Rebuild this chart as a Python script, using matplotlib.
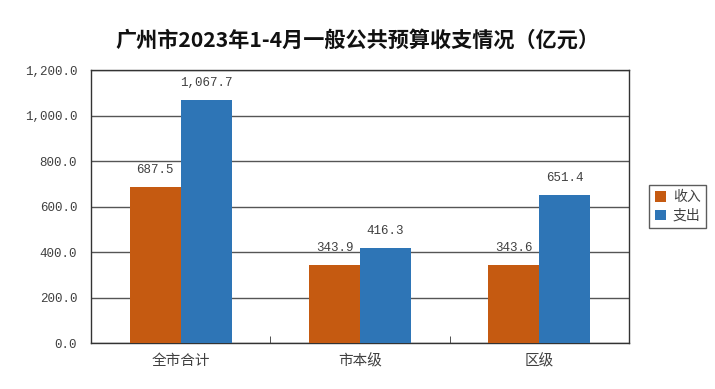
import matplotlib
matplotlib.use("Agg")
import matplotlib.pyplot as plt
import numpy as np
from matplotlib.ticker import FuncFormatter

plt.rcParams['font.family'] = ['Noto Sans CJK SC', 'DejaVu Sans']

categories = ['全市合计', '市本级', '区级']
income = [687.5, 343.9, 343.6]
expense = [1067.7, 416.3, 651.4]
series_names = ['收入', '支出']
title = '广州市2023年1-4月一般公共预算收支情况（亿元）'

c_in = '#C55A11'
c_out = '#2E75B6'
num_font = ['Liberation Mono', 'DejaVu Sans Mono']

fig = plt.figure(figsize=(7.15, 3.89), dpi=100)
ax = fig.add_axes([0.1273, 0.118, 0.7524, 0.702])

x = np.arange(len(categories))
w = 0.285
b1 = ax.bar(x - w/2, income, w, color=c_in, label=series_names[0], zorder=3)
b2 = ax.bar(x + w/2, expense, w, color=c_out, label=series_names[1], zorder=3)

for rect, v in list(zip(b1, income)) + list(zip(b2, expense)):
    ax.annotate(f'{v:,.1f}', (rect.get_x() + rect.get_width()/2, v),
                xytext=(0, 8), textcoords='offset points', ha='center', va='bottom',
                fontsize=9, color='#404040', family=num_font)

ax.set_xlim(-0.5, len(categories) - 0.5)
ax.set_ylim(0, 1200)
ax.set_yticks(np.arange(0, 1201, 200))
ax.yaxis.set_major_formatter(FuncFormatter(lambda v, p: f'{v:,.1f}'))
ax.grid(axis='y', color='#555555', linewidth=1.0, zorder=0)
ax.tick_params(axis='y', length=0, labelsize=9, labelcolor='#404040', pad=10)
for lab in ax.get_yticklabels():
    lab.set_family(num_font)

ax.set_xticks(x)
ax.set_xticklabels(categories, fontsize=10.5, color='#404040')
ax.tick_params(axis='x', length=0, pad=8)
ax.set_xticks([0.5, 1.5], minor=True)
ax.tick_params(axis='x', which='minor', direction='in', length=5, color='#333333')

for s in ax.spines.values():
    s.set_color('#333333')
    s.set_linewidth(1.0)

fig.text(0.5, 0.897, title, ha='center', va='center', fontsize=15.2, fontweight='bold', color='#111111')

leg = ax.legend(loc='center left', bbox_to_anchor=(1.025, 0.5), frameon=True, fancybox=False,
                edgecolor='#333333', fontsize=10, handlelength=0.8, handleheight=0.8,
                handletextpad=0.5, borderpad=0.4, labelspacing=0.3)
for t in leg.get_texts():
    t.set_color('#404040')

fig.savefig('out.png', dpi=100)
